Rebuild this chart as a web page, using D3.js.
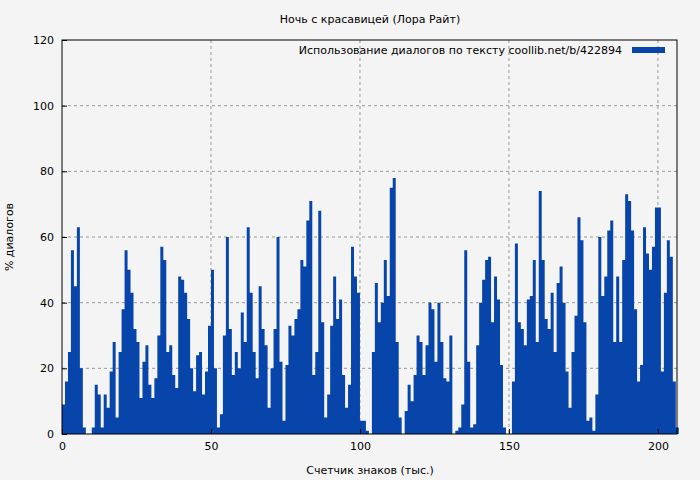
<!DOCTYPE html>
<html><head><meta charset="utf-8">
<script src="https://cdn.jsdelivr.net/npm/d3@7"></script>
<style>body{margin:0;background:#f4f4f4}text{font-family:"DejaVu Sans",sans-serif;font-size:11px;fill:#000}</style>
</head><body>
<svg id="chart" width="700" height="480"></svg>
<script>
// % dialogue per 1k chars
var values = [9,16,25,56,45,63,20,2,0,0,2,15,12,2,12,8,19,28,5,25,38,56,50,43,32,28,11,22,27,15,
  11,17,30,57,53,25,27,18,14,48,47,43,35,20,13,24,25,12,19,33,50,20,2,6,30,60,32,18,25,20,
  37,28,63,43,25,17,45,32,27,8,20,32,60,22,4,21,33,30,35,38,53,51,65,71,18,25,68,34,5,12,
  33,48,35,41,18,8,15,57,48,43,4,4,1,0,25,46,34,40,53,42,75,78,28,5,0,7,15,10,18,30,
  28,18,27,40,38,22,40,28,17,16,30,0,1,2,9,56,22,2,3,27,40,47,53,54,34,48,41,21,2,0,
  0,16,58,34,32,27,41,42,53,28,74,53,35,32,43,25,46,51,40,19,8,25,36,66,59,34,4,5,1,12,
  60,42,48,62,65,28,48,28,53,73,71,62,38,16,21,63,55,50,57,69,69,19,43,59,54,16,2];
var xTicks = [0,50,100,150,200];
var yTicks = [0,20,40,60,80,100,120];
var title = "Ночь с красавицей (Лора Райт)";
var legendText = "Использование диалогов по тексту  coollib.net/b/422894";

var svg = d3.select("#chart");
var x = d3.scaleLinear().domain([0, 206.4]).range([62, 677]);
var y = d3.scaleLinear().domain([0, 120]).range([434, 40]);

svg.append("rect").attr("width",700).attr("height",480).attr("fill","#f4f4f4");

var grid = svg.append("g").attr("stroke","#999").attr("stroke-dasharray","3,3");
yTicks.slice(1,-1).forEach(function(t){
  grid.append("line").attr("x1",62).attr("x2",677).attr("y1",y(t)).attr("y2",y(t));
});
xTicks.slice(1).forEach(function(t){
  grid.append("line").attr("x1",x(t)).attr("x2",x(t)).attr("y1",40).attr("y2",434);
});

var pts = values.map(function(v,i){return [i,v];});
pts.push([values.length, 0]);
var area = d3.area().x(function(d){return x(d[0]);}).y0(y(0)).y1(function(d){return y(d[1]);}).curve(d3.curveStepAfter);
svg.append("path").datum(pts).attr("d",area).attr("fill","#0745ab");

svg.append("rect").attr("x",62).attr("y",40).attr("width",615).attr("height",394)
  .attr("fill","none").attr("stroke","#000");

var xa = svg.append("g").attr("transform","translate(0,434)")
  .call(d3.axisBottom(x).tickValues(xTicks).tickSize(-5).tickPadding(8));
var ya = svg.append("g").attr("transform","translate(62,0)")
  .call(d3.axisLeft(y).tickValues(yTicks).tickSize(-5).tickPadding(8));
[xa,ya].forEach(function(a){a.select(".domain").remove();a.selectAll("text").attr("font-size",11).attr("font-family","DejaVu Sans");});

svg.append("text").attr("x",370).attr("y",23).attr("text-anchor","middle").text(title);
svg.append("text").attr("x",370).attr("y",474).attr("text-anchor","middle").text("Счетчик знаков (тыс.)");
svg.append("text").attr("transform","translate(13,237) rotate(-90)").attr("text-anchor","middle").text("% диалогов");
svg.append("text").attr("x",622).attr("y",54).attr("text-anchor","end").text(legendText);
svg.append("rect").attr("x",632).attr("y",47).attr("width",33).attr("height",6).attr("fill","#0745ab");
</script>
</body></html>
